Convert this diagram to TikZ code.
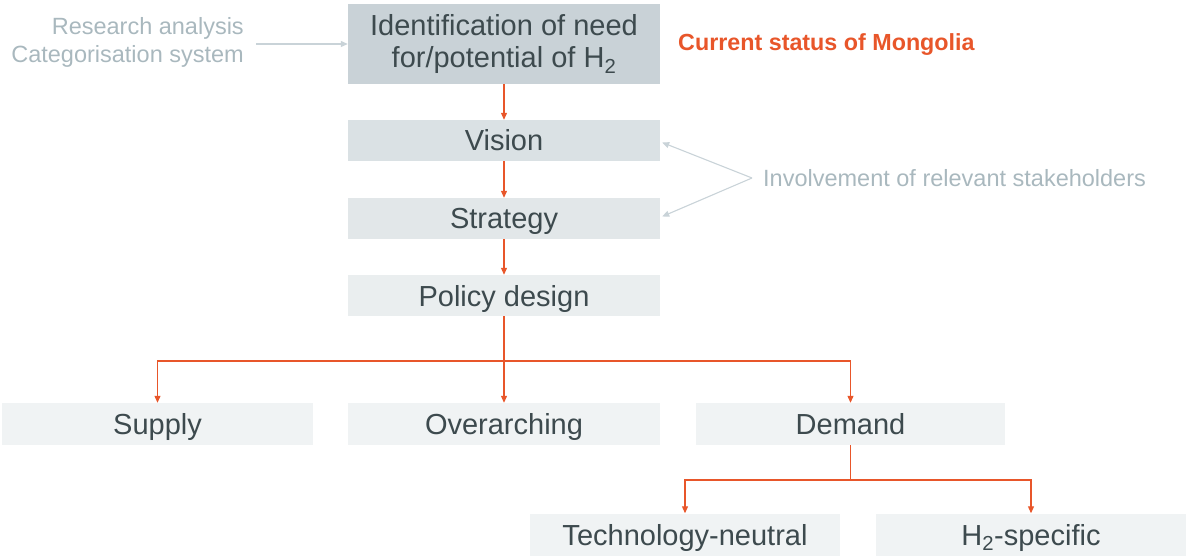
\documentclass[tikz,border=0pt]{standalone}
\usepackage{fontspec}
\setmainfont{Liberation Sans}
\usetikzlibrary{arrows.meta}
\definecolor{orng}{HTML}{E8562A}
\definecolor{gtxt}{HTML}{A9B8BE}
\definecolor{garrow}{HTML}{C9D3D8}
\definecolor{dtxt}{HTML}{3D4A4E}
\definecolor{f1}{HTML}{C9D2D7}
\definecolor{f2}{HTML}{DAE1E4}
\definecolor{f3}{HTML}{E2E7E9}
\definecolor{f4}{HTML}{EAEEEF}
\definecolor{f5}{HTML}{F0F3F4}
\tikzset{
  box/.style={draw=none, inner sep=0pt, minimum width=312pt, minimum height=41pt,
    text=dtxt, font=\fontsize{29}{32}\selectfont, align=center},
  one/.style={text height=21pt, text depth=0pt},
  arr/.style={draw=orng, line width=1.1pt, -{Triangle[length=7pt,width=6pt]}},
  ln/.style={draw=orng, line width=1.1pt},
  garr/.style={draw=garrow, line width=1.1pt, -{Triangle[length=7pt,width=6pt]}},
  side/.style={text=gtxt, font=\fontsize{23.5}{28}\selectfont, inner sep=0pt}
}
\begin{document}
\begin{tikzpicture}[x=1pt,y=-1pt]
\useasboundingbox (0,0) rectangle (1186,556);
\node[box, fill=f1, minimum height=80pt] (ident) at (504,44) {Identification of need\\for/potential of H\textsubscript{2}};
\node[box, one, fill=f2] (vision) at (504,140.5) {Vision};
\node[box, one, fill=f3] (strategy) at (504,218.5) {Strategy};
\node[box, one, fill=f4] (policy) at (504,295.5) {Policy design};
\node[box, one, fill=f5, minimum width=311pt, minimum height=42pt] (supply) at (157.5,424) {Supply};
\node[box, one, fill=f5, minimum height=42pt] (over) at (504,424) {Overarching};
\node[box, one, fill=f5, minimum width=309pt, minimum height=42pt] (demand) at (850.5,424) {Demand};
\node[box, one, fill=f5, minimum width=310pt, minimum height=42pt] (tech) at (685,534.5) {Technology-neutral};
\node[box, one, fill=f5, minimum width=310pt, minimum height=42pt] (htwo) at (1031,534.5) {H\textsubscript{2}-specific};

\node[side, align=right, anchor=east] (research) at (244,42) {Research analysis\\Categorisation system};
\node[side, anchor=west] (involve) at (763,178) {Involvement of relevant stakeholders};
\node[text=orng, font=\fontsize{23.3}{26}\selectfont\bfseries, anchor=west, inner sep=0pt] (status) at (678,45) {Current status of Mongolia};

\coordinate (rs) at (256,44);
\coordinate (inv) at (752,178);
\coordinate (b1) at (504,361);
\coordinate (b2) at (850.5,480);

\draw[garr] (rs) -- (ident.west);
\draw[garr] (inv) -- ([xshift=2pt,yshift=-2pt]vision.east);
\draw[garr] (inv) -- ([xshift=2pt,yshift=2pt]strategy.east);

\draw[arr] (ident.south) -- (vision.north);
\draw[arr] (vision.south) -- (strategy.north);
\draw[arr] (strategy.south) -- (policy.north);
\draw[arr] (policy.south) -- (over.north);
\draw[arr] (b1) -| (supply.north);
\draw[arr] (b1) -| (demand.north);
\draw[ln] (demand.south) -- (b2);
\draw[arr] (b2) -| (tech.north);
\draw[arr] (b2) -| (htwo.north);
\end{tikzpicture}
\end{document}
